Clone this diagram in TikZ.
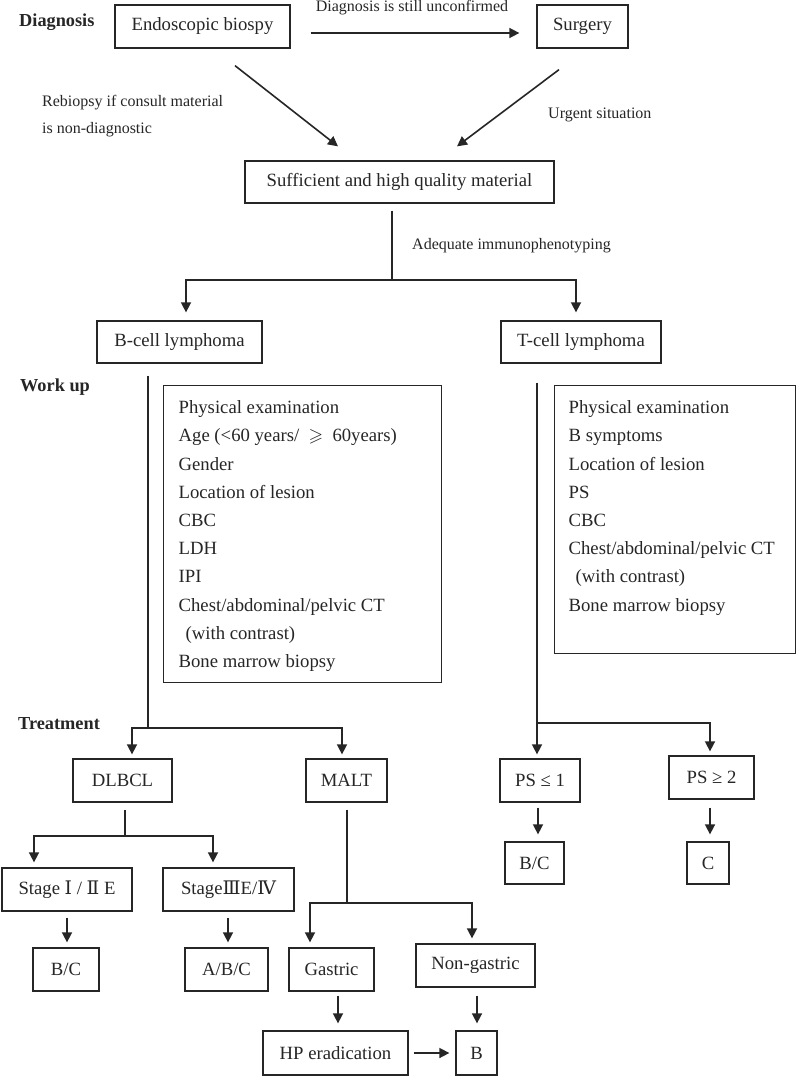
\documentclass[tikz,border=0pt]{standalone}
\usepackage{amssymb}
\usepackage{fontspec}
\setmainfont{Liberation Serif}
\newfontfamily\rn{DejaVu Serif}
\usetikzlibrary{arrows.meta,calc}
\definecolor{ink}{HTML}{262626}
\begin{document}
\begin{tikzpicture}[x=1pt,y=-1pt,
  box/.style={draw=ink, line width=1.3pt, inner sep=0pt, text=ink, font=\fontsize{18.7}{22}\selectfont, minimum height=43},
  lbl/.style={inner sep=0pt, text=ink, font=\fontsize{16}{27}\selectfont, align=left},
  hdr/.style={inner sep=0pt, text=ink, font=\fontsize{18.3}{22}\selectfont\bfseries, anchor=west},
  conn/.style={draw=ink, line width=1.6pt},
  arr/.style={conn, -{Triangle[length=10pt,width=10pt]}},
]
\useasboundingbox[fill=white] (0,0) rectangle (800,1076);

% headers
\node[hdr] (hdiag) at (19,22) {Diagnosis};
\node[hdr] (hwork) at (20,387) {Work up};
\node[hdr] (htreat) at (18,724) {Treatment};

% boxes
\node[box, minimum width=175] (endo) at (202.5,26.5) {Endoscopic biospy};
\node[box, minimum width=91] (surg) at (582.5,26.5) {Surgery};
\node[box, minimum width=309, minimum height=42] (suff) at (399.5,182) {Sufficient and high quality material};
\node[box, minimum width=165, minimum height=42] (bcell) at (179.5,342) {B-cell lymphoma};
\node[box, minimum width=160, minimum height=42] (tcell) at (581,342) {T-cell lymphoma};

\node[box, anchor=north west] (wuL) at (163,385) {\parbox[c][297pt][t]{278pt}{\fontsize{18.7}{28.2}\selectfont\raggedright\leftskip=15pt\vspace*{15pt}Physical examination\\
Age (<60 years/ \ $\geqslant$\ \ 60years)\\
Gender\\
Location of lesion\\
CBC\\
LDH\\
IPI\\
Chest/abdominal/pelvic CT\\
\hspace*{7pt}(with contrast)\\
Bone marrow biopsy}};

\node[box, anchor=north west] (wuR) at (554,385) {\parbox[c][268pt][t]{241pt}{\fontsize{18.7}{28.2}\selectfont\raggedright\leftskip=14pt\vspace*{15pt}Physical examination\\
B symptoms\\
Location of lesion\\
PS\\
CBC\\
Chest/abdominal/pelvic CT\\
\hspace*{7pt}(with contrast)\\
Bone marrow biopsy}};

\node[box, minimum width=99] (dlbcl) at (122.5,780.5) {DLBCL};
\node[box, minimum width=81] (malt) at (346.5,780.5) {MALT};
\node[box, minimum width=80] (ps1) at (540,780.5) {PS ≤ 1};
\node[box, minimum width=85] (ps2) at (711.5,777.5) {PS ≥ 2};
\node[box, minimum width=130] (st1) at (67,889.5) {Stage {\rn Ⅰ} / {\rn Ⅱ} E};
\node[box, minimum width=131] (st3) at (228.5,889.5) {Stage{\rn Ⅲ}E/{\rn Ⅳ}};
\node[box, minimum width=66] (bc1) at (66,969.5) {B/C};
\node[box, minimum width=83] (abc) at (226.5,969.5) {A/B/C};
\node[box, minimum width=85] (gastric) at (331.5,969.5) {Gastric};
\node[box, minimum width=119] (nong) at (475.5,965.5) {Non-gastric};
\node[box, minimum width=145, minimum height=44] (hp) at (335.5,1053) {HP eradication};
\node[box, minimum width=41, minimum height=44] (bfin) at (476.5,1053) {B};
\node[box, minimum width=59, minimum height=42] (bc2) at (534.5,863) {B/C};
\node[box, minimum width=42, minimum height=42] (cfin) at (708,863) {C};

% labels
\node[lbl, anchor=center] (lunc) at (412,8) {Diagnosis is still unconfirmed};
\node[lbl, anchor=west] (lrebi) at (42,116.5) {Rebiopsy if consult material\\is non-diagnostic};
\node[lbl, anchor=west] (lurg) at (548,115) {Urgent situation};
\node[lbl, anchor=west] (ladeq) at (412,246) {Adequate immunophenotyping};

% connectors
\draw[arr] ($(endo.east)+(20,6.5)$) -- ($(surg.west)+(-17,6.5)$);
\draw[arr] ($(endo.south)+(32.5,17)$) -- ($(suff.north)+(-61.5,-14)$);
\draw[arr] ($(surg.south)+(-23.5,21)$) -- ($(suff.north)+(57.5,-14)$);

\coordinate (s1) at (392,280);
\draw[conn] ($(suff.south)+(-7.5,7)$) -- (s1);
\draw[arr] (s1) -| ($(bcell.north)+(6.5,-8)$);
\draw[arr] (s1) -| ($(tcell.north)+(-5,-8)$);

\coordinate (b1) at (148,728);
\draw[conn] ($(bcell.south)+(-31.5,12)$) -- (b1);
\draw[arr] (b1) -| ($(dlbcl.north)+(9.5,-4)$);
\draw[arr] (b1) -| ($(malt.north)+(-4.5,-4)$);

\coordinate (t1) at (537,723);
\draw[conn] ($(tcell.south)+(-44,19)$) -- (t1);
\draw[arr] (t1) -- ($(ps1.north)+(-3,-4)$);
\draw[arr] (t1) -| ($(ps2.north)+(-1.5,-4)$);

\coordinate (d1) at (125,836);
\draw[conn] ($(dlbcl.south)+(2.5,7)$) -- (d1);
\draw[arr] (d1) -| ($(st1.north)+(-33,-5)$);
\draw[arr] (d1) -| ($(st3.north)+(-15.5,-5)$);

\draw[arr] ($(st1.south)+(0,6)$) -- ($(st1.south |- bc1.north)+(0,-5)$);
\draw[arr] ($(st3.south)+(-0.5,6)$) -- ($(st3.south |- abc.north)+(-0.5,-5)$);

\coordinate (m1) at (347,903);
\draw[conn] ($(malt.south)+(0.5,7)$) -- (m1);
\draw[arr] (m1) -| ($(gastric.north)+(-21.5,-5)$);
\draw[arr] (m1) -| ($(nong.north)+(-3.5,-5)$);

\draw[arr] ($(gastric.south)+(6.5,4)$) -- ($(hp.north)+(2.5,-7)$);
\draw[arr] ($(nong.south)+(1.5,8)$) -- ($(bfin.north)+(0.5,-7)$);
\draw[arr] ($(hp.east)+(5,0)$) -- ($(bfin.west)+(-6,0)$);

\draw[arr] ($(ps1.south)+(-2,5)$) -- ($(bc2.north)+(3.5,-7)$);
\draw[arr] ($(ps2.south)+(-1.5,8)$) -- ($(cfin.north)+(2,-7)$);
\end{tikzpicture}
\end{document}
